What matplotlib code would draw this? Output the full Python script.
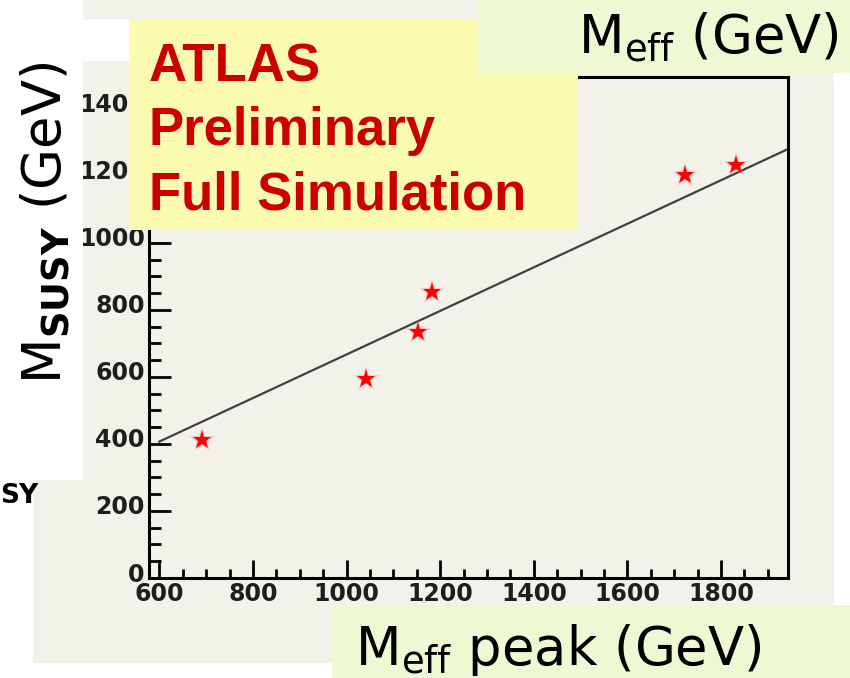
import matplotlib
matplotlib.use('Agg')
import matplotlib.pyplot as plt
import matplotlib.transforms as mtransforms
from matplotlib.patches import Rectangle
from matplotlib.ticker import MultipleLocator

# picture size in pixels
W, H = 850, 678

# star points
meff_peak = [691, 1042, 1152, 1182, 1723, 1832]
m_susy = [412, 594, 735, 852, 1203, 1233]

# fitted straight line (end points)
fit_x = [600, 1943]
fit_y = [407, 1280]

x_ticks = [600, 800, 1000, 1200, 1400, 1600, 1800]
y_ticks = [0, 200, 400, 600, 800, 1000, 1200, 1400]

atlas_lines = ['ATLAS', 'Preliminary', 'Full Simulation']

plt.rcParams['mathtext.fontset'] = 'dejavusans'

fig = plt.figure(figsize=(W / 100, H / 100), dpi=100)


def fx(x):
    return x / W


def fy(y):
    return 1 - y / H


# Function to put a flat box on the figure, given pixel corners
def add_box(x0, y0, x1, y1, color, z):
    r = Rectangle((fx(x0), fy(y1)), (x1 - x0) / W, (y1 - y0) / H,
                  transform=fig.transFigure, facecolor=color,
                  edgecolor='none', zorder=z)
    fig.add_artist(r)


# backgrounds
add_box(33, 0, 834, 663, '#f3f2ea', -1)
add_box(0, 0, 83, 480, 'white', 1)
add_box(83, 20, 129, 61, 'white', 1)
add_box(129, 19, 578, 230, '#fafab0', 2)
add_box(478, 0, 850, 73, '#eef9d3', 2)
add_box(332, 605, 850, 678, '#eef9d3', 2)

ax = fig.add_axes([fx(149), fy(578), (788 - 149) / W, (578 - 77) / H])
ax.set_facecolor('none')

ax.plot(fit_x, fit_y, color='#404040', lw=1.6, zorder=2)
ax.plot(meff_peak, m_susy, linestyle='none', marker='*', markersize=19,
        color='#ff7070', alpha=0.3, markeredgewidth=0, zorder=3)
ax.plot(meff_peak, m_susy, linestyle='none', marker='*', markersize=14,
        color='#ff0000', markeredgewidth=0, zorder=4)

ax.set_xlim(578, 1943)
ax.set_ylim(0, 1495)
ax.set_xticks(x_ticks)
ax.set_yticks(y_ticks)
ax.xaxis.set_minor_locator(MultipleLocator(50))
ax.yaxis.set_minor_locator(MultipleLocator(50))

for sp in ax.spines.values():
    sp.set_linewidth(2.2)
    sp.set_color('black')

ax.tick_params(axis='x', which='major', direction='in', length=13, width=2, pad=3)
ax.tick_params(axis='x', which='minor', direction='in', length=6.5, width=2)
ax.tick_params(axis='y', which='major', direction='in', length=15.8, width=2, pad=3)
ax.tick_params(axis='y', which='minor', direction='in', length=8.6, width=2)
for lab in ax.get_xticklabels() + ax.get_yticklabels():
    lab.set_fontweight('bold')
    lab.set_fontsize(17)
    lab.set_color('#1e1e1e')

# y labels sit a little above their ticks in the original
shift = mtransforms.ScaledTranslation(0, 6 / 100, fig.dpi_scale_trans)
for lab in ax.get_yticklabels():
    lab.set_transform(lab.get_transform() + shift)

# red ATLAS text in the yellow box
for i, line in enumerate(atlas_lines):
    fig.text(fx(149), fy(81 + 64.5 * i), line, color='#cc0000',
             fontsize=38, fontweight='bold', family='Liberation Sans',
             va='baseline', ha='left', zorder=3)

# axis titles in the boxes
fig.text(fx(578), fy(53), r'M$_{\rm eff}$ (GeV)', fontsize=38,
         va='baseline', ha='left', zorder=3)
fig.text(fx(355), fy(665), r'M$_{\rm eff}$ peak (GeV)', fontsize=38,
         va='baseline', ha='left', zorder=3)
fig.text(fx(62), fy(223), r'M$_{\mathbf{SUSY}}$ (GeV)', fontsize=38,
         rotation=90, rotation_mode='anchor', ha='center', va='baseline',
         zorder=3)
fig.text(fx(0), fy(503), 'SY', fontsize=19, fontweight='bold',
         ha='left', va='baseline', zorder=3)

plt.savefig('out.png', dpi=100)
plt.close()
